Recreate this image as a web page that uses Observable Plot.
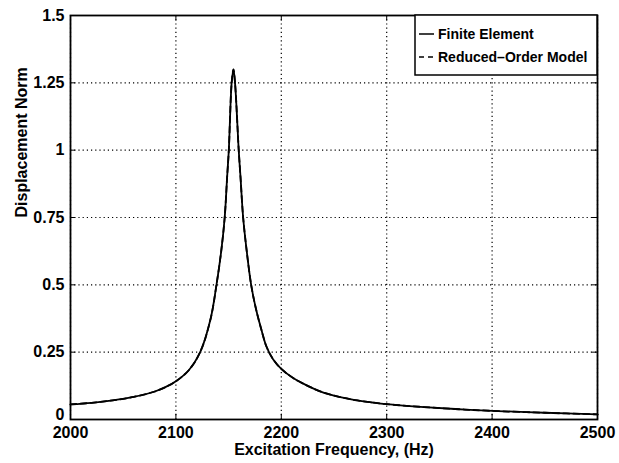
<!DOCTYPE html>
<html>
<head>
<meta charset="utf-8">
<script src="https://cdn.jsdelivr.net/npm/d3@7"></script>
<script src="https://cdn.jsdelivr.net/npm/@observablehq/plot@0.6"></script>
<style>
  html, body { margin: 0; padding: 0; background: #fff; }
  #chart { position: relative; width: 619px; height: 463px; }
  svg { font-family: "Liberation Sans", Arial, Helvetica, sans-serif; }
</style>
</head>
<body>
<div id="chart"></div>
<script>
// Excitation frequency (Hz)
const freq = [2000, 2020, 2040, 2060, 2080, 2090, 2100, 2112, 2123, 2133, 2138.5, 2143, 2146.3, 2148.6, 2150.2, 2152.9, 2154.6,
              2156.1, 2159.6, 2161.3, 2163.8, 2167.2, 2171.4, 2176, 2181, 2186, 2192, 2200, 2212, 2225, 2240, 2256, 2270,
              2285, 2300, 2332, 2365, 2400, 2450, 2500];
// Finite Element displacement norm
const feValue = [0.056, 0.062, 0.071, 0.084, 0.104, 0.120, 0.142, 0.182, 0.25, 0.375, 0.5, 0.625, 0.75, 0.9, 1.0, 1.25, 1.30,
                 1.25, 1.0, 0.9, 0.75, 0.625, 0.5, 0.41, 0.335, 0.27, 0.225, 0.188, 0.152, 0.125, 0.100, 0.083, 0.072,
                 0.064, 0.057, 0.047, 0.039, 0.032, 0.025, 0.019];
// Reduced-Order Model displacement norm (overlaps the FE curve)
const romValue = [0.056, 0.062, 0.071, 0.084, 0.104, 0.120, 0.142, 0.182, 0.25, 0.375, 0.5, 0.625, 0.75, 0.9, 1.0, 1.25, 1.30,
                  1.25, 1.0, 0.9, 0.75, 0.625, 0.5, 0.41, 0.335, 0.27, 0.225, 0.188, 0.152, 0.125, 0.100, 0.083, 0.072,
                  0.064, 0.057, 0.047, 0.039, 0.032, 0.025, 0.019];
const xTicks = [2000, 2100, 2200, 2300, 2400, 2500];
const yTicks = [0, 0.25, 0.5, 0.75, 1, 1.25, 1.5];
const yTickLabels = ["0", "0.25", "0.5", "0.75", "1", "1.25", "1.5"];
const seriesNames = ["Finite Element", "Reduced\u2013Order Model"];

const fe = freq.map((f, i) => ({f, v: feValue[i]}));
const rom = freq.map((f, i) => ({f, v: romValue[i]}));
const yFmt = d => yTickLabels[yTicks.indexOf(d)];

const plot = Plot.plot({
  width: 619,
  height: 463,
  marginTop: 15,
  marginRight: 22,
  marginBottom: 44,
  marginLeft: 70,
  style: {fontFamily: '"Liberation Sans", Arial, sans-serif', fontSize: "16px", fontWeight: "bold", color: "#000", background: "#fff"},
  x: {domain: [2000, 2500], ticks: xTicks, tickFormat: d => String(d)},
  y: {domain: [0, 1.5], ticks: yTicks, tickFormat: yFmt},
  marks: [
    Plot.gridX(xTicks, {stroke: "#000", strokeOpacity: 1, strokeWidth: 1.2, strokeDasharray: "1.2,3"}),
    Plot.gridY(yTicks, {stroke: "#000", strokeOpacity: 1, strokeWidth: 1.2, strokeDasharray: "1.2,3"}),
    Plot.ruleX(xTicks, {y1: 0, y2: 0.02, stroke: "#000", strokeWidth: 1}),
    Plot.ruleX(xTicks, {y1: 1.48, y2: 1.5, stroke: "#000", strokeWidth: 1}),
    Plot.ruleY(yTicks, {x1: 2000, x2: 2005, stroke: "#000", strokeWidth: 1}),
    Plot.ruleY(yTicks, {x1: 2495, x2: 2500, stroke: "#000", strokeWidth: 1}),
    Plot.axisX(xTicks, {tickSize: 0, tickPadding: 7, fontSize: 16, label: null, tickFormat: d => String(d)}),
    Plot.axisY(yTicks.filter(d => d !== 0), {tickSize: 0, tickPadding: 6, fontSize: 16, label: null, tickFormat: yFmt}),
    Plot.axisY(yTicks.filter(d => d === 0), {tickSize: 0, tickPadding: 6, fontSize: 16, label: null, dy: -5, tickFormat: yFmt}),
    Plot.line(fe, {x: "f", y: "v", stroke: "#000", strokeWidth: 1.8, curve: "catmull-rom"}),
    Plot.line(rom, {x: "f", y: "v", stroke: "#000", strokeWidth: 1.8, strokeDasharray: "6,4", curve: "catmull-rom"}),
    Plot.frame({stroke: "#000", strokeWidth: 1.8}),
    Plot.text(["Excitation Frequency, (Hz)"], {frameAnchor: "bottom", dy: 35, fontSize: 16, fill: "#000"}),
    Plot.text(["Displacement Norm"], {frameAnchor: "left", dx: -49, rotate: -90, fontSize: 16, fill: "#000"})
  ]
});

document.getElementById("chart").appendChild(plot);

// Legend box in the upper-right corner of the axes
const svgSel = d3.select(plot);
const xScale = plot.scale("x"), yScale = plot.scale("y");
const frameRight = xScale.range[1], frameTop = yScale.range[1];
const lg = svgSel.append("g");
const boxW = 182, boxH = 60;
lg.append("rect").attr("x", frameRight - boxW).attr("y", frameTop).attr("width", boxW).attr("height", boxH)
  .attr("fill", "#fff").attr("stroke", "#000").attr("stroke-width", 1.5);
const rowsY = [frameTop + 19, frameTop + 42];
const dashes = [null, "5,4"];
seriesNames.forEach((name, i) => {
  const l = lg.append("line").attr("x1", frameRight - boxW + 4).attr("x2", frameRight - boxW + 19)
    .attr("y1", rowsY[i]).attr("y2", rowsY[i]).attr("stroke", "#000").attr("stroke-width", 1.5);
  if (dashes[i]) l.attr("stroke-dasharray", dashes[i]);
  lg.append("text").attr("x", frameRight - boxW + 23).attr("y", rowsY[i]).attr("dy", "0.35em")
    .attr("text-anchor", "start").attr("font-size", 14).attr("font-weight", "bold")
    .attr("fill", "#000").text(name);
});
</script>
</body>
</html>
